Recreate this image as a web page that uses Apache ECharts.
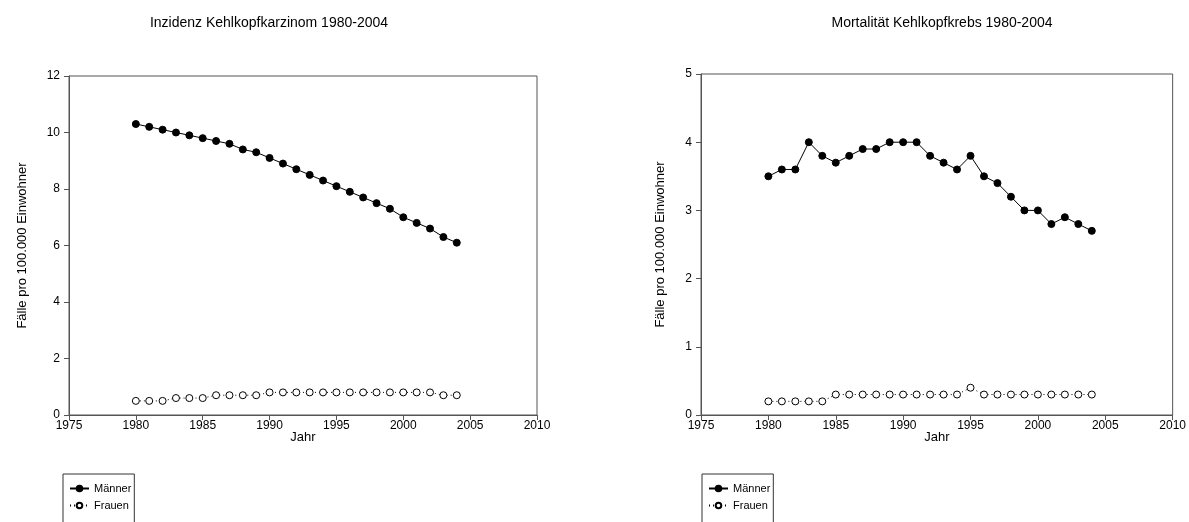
<!DOCTYPE html>
<html>
<head>
<meta charset="utf-8">
<script src="https://cdn.jsdelivr.net/npm/echarts@6/dist/echarts.min.js"></script>
<style>
  html, body { margin: 0; padding: 0; background: #fff; }
  #chart { width: 1189px; height: 522px; }
</style>
</head>
<body>
<div id="chart"></div>
<script>
// Jahre 1980–2004
const years = [1980,1981,1982,1983,1984,1985,1986,1987,1988,1989,1990,1991,1992,
               1993,1994,1995,1996,1997,1998,1999,2000,2001,2002,2003,2004];

// Inzidenz Kehlkopfkarzinom (Fälle pro 100.000 Einwohner)
const inzidenzMaenner = [10.3,10.2,10.1,10.0,9.9,9.8,9.7,9.6,9.4,9.3,9.1,8.9,8.7,
                         8.5,8.3,8.1,7.9,7.7,7.5,7.3,7.0,6.8,6.6,6.3,6.1];
const inzidenzFrauen  = [0.5,0.5,0.5,0.6,0.6,0.6,0.7,0.7,0.7,0.7,0.8,0.8,0.8,
                         0.8,0.8,0.8,0.8,0.8,0.8,0.8,0.8,0.8,0.8,0.7,0.7];

// Mortalität Kehlkopfkrebs (Fälle pro 100.000 Einwohner)
const mortalitaetMaenner = [3.5,3.6,3.6,4.0,3.8,3.7,3.8,3.9,3.9,4.0,4.0,4.0,3.8,
                            3.7,3.6,3.8,3.5,3.4,3.2,3.0,3.0,2.8,2.9,2.8,2.7];
const mortalitaetFrauen  = [0.2,0.2,0.2,0.2,0.2,0.3,0.3,0.3,0.3,0.3,0.3,0.3,0.3,
                            0.3,0.3,0.4,0.3,0.3,0.3,0.3,0.3,0.3,0.3,0.3,0.3];

const titles = ['Inzidenz Kehlkopfkarzinom 1980-2004', 'Mortalität Kehlkopfkrebs 1980-2004'];
const xAxisTitle = 'Jahr';
const yAxisTitle = 'Fälle pro 100.000 Einwohner';
const seriesNames = ['Männer', 'Frauen'];

const pair = (xs, ys) => xs.map((x, i) => [x, ys[i]]);

const FONT = 'Liberation Sans, Arial, sans-serif';
const AXIS_COLOR = '#555';

const grids = [
  { left: 69, top: 76, width: 468, height: 339 },
  { left: 701, top: 74, width: 472, height: 341 }
];

function xAxisFor(idx) {
  return {
    gridIndex: idx, type: 'value', min: 1975, max: 2010, interval: 5,
    name: xAxisTitle, nameLocation: 'middle', nameGap: 16, nameMoveOverlap: false,
    nameTextStyle: { fontFamily: FONT, fontSize: 13, color: '#000', verticalAlign: 'top' },
    axisLine: { lineStyle: { color: AXIS_COLOR, width: 1 } },
    axisTick: { inside: false, length: 5, lineStyle: { color: AXIS_COLOR } },
    axisLabel: { fontFamily: FONT, fontSize: 12, color: '#000', margin: 5,
                 formatter: v => String(v) },
    splitLine: { show: false }
  };
}
function yAxisFor(idx, max, interval, gap) {
  return {
    gridIndex: idx, type: 'value', min: 0, max: max, interval: interval,
    name: yAxisTitle, nameLocation: 'middle', nameGap: gap,
    nameTextStyle: { fontFamily: FONT, fontSize: 13, color: '#000' },
    axisLine: { show: true, lineStyle: { color: AXIS_COLOR, width: 1 } },
    axisTick: { show: true, inside: false, length: 5, lineStyle: { color: AXIS_COLOR } },
    axisLabel: { fontFamily: FONT, fontSize: 12, color: '#000', margin: 9 },
    splitLine: { show: false }
  };
}

function menSeries(idx, data) {
  return {
    name: seriesNames[0], type: 'line', xAxisIndex: idx, yAxisIndex: idx,
    data: data, symbol: 'circle', symbolSize: 7,
    lineStyle: { color: '#000', width: 1 },
    itemStyle: { color: '#000', borderColor: '#000', borderWidth: 1 },
    animation: false
  };
}
function womenSeries(idx, data) {
  return {
    name: seriesNames[1], type: 'line', xAxisIndex: idx, yAxisIndex: idx,
    data: data, symbol: 'circle', symbolSize: 7,
    lineStyle: { color: '#000', width: 1, type: [1, 3] },
    itemStyle: { color: '#fff', borderColor: '#000', borderWidth: 1 },
    animation: false
  };
}

function legendFor(left) {
  return {
    left: left, top: 474, orient: 'vertical', height: 120,
    data: seriesNames,
    selectedMode: false,
    itemWidth: 19, itemHeight: 7, itemGap: 6,
    borderColor: '#333', borderWidth: 1, borderRadius: 0,
    padding: [9, 3, 30, 6],
    textStyle: { fontFamily: FONT, fontSize: 11, color: '#000' }
  };
}

const chart = echarts.init(document.getElementById('chart'), null, { renderer: 'canvas' });
chart.setOption({
  backgroundColor: '#fff',
  animation: false,
  title: [
    { text: titles[0], left: 264, top: 11, textAlign: 'center',
      textStyle: { fontFamily: FONT, fontSize: 14, fontWeight: 'normal', color: '#000' } },
    { text: titles[1], left: 937, top: 11, textAlign: 'center',
      textStyle: { fontFamily: FONT, fontSize: 14, fontWeight: 'normal', color: '#000' } }
  ],
  grid: grids.map(g => Object.assign({ show: true, borderColor: AXIS_COLOR, borderWidth: 1,
                                      backgroundColor: 'transparent' }, g)),
  legend: [legendFor(63), legendFor(702)],
  xAxis: [xAxisFor(0), xAxisFor(1)],
  yAxis: [yAxisFor(0, 12, 2, 40), yAxisFor(1, 5, 1, 34)],
  series: [
    menSeries(0, pair(years, inzidenzMaenner)),
    womenSeries(0, pair(years, inzidenzFrauen)),
    menSeries(1, pair(years, mortalitaetMaenner)),
    womenSeries(1, pair(years, mortalitaetFrauen))
  ]
});
</script>
</body>
</html>
